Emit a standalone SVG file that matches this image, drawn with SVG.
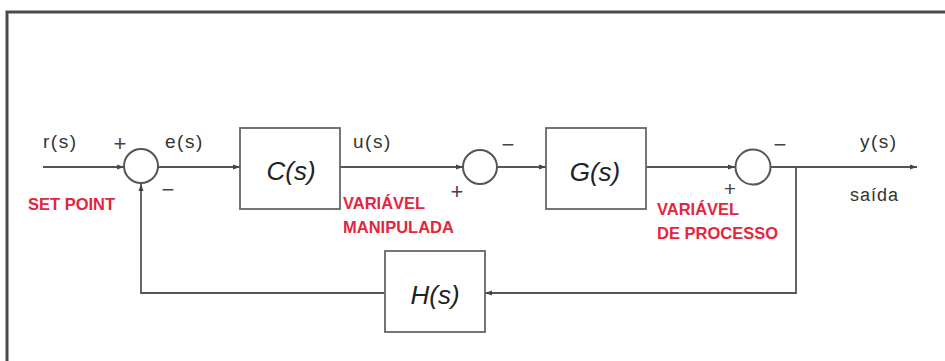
<svg xmlns="http://www.w3.org/2000/svg" width="945" height="361" viewBox="0 0 945 361">
<defs>
<marker id="arr" markerWidth="8" markerHeight="6" refX="7" refY="3" orient="auto" markerUnits="userSpaceOnUse">
<path d="M0,0.5 L7,3 L0,5.5 z" fill="#444"/>
</marker>
<style>
.ln{fill:none;stroke:#555;stroke-width:1.8}
.box{fill:#fff;stroke:#666;stroke-width:1.8}
.sum{fill:#fff;stroke:#555;stroke-width:2}
.lbl{font-family:"Liberation Sans",Arial,sans-serif;font-size:19px;fill:#333;letter-spacing:1.5px}
.fn{font-family:"Liberation Sans",Arial,sans-serif;font-size:26px;font-style:italic;fill:#222;text-anchor:middle}
.sg{font-family:"Liberation Sans",Arial,sans-serif;font-size:22px;fill:#444;text-anchor:middle}
.red{font-family:"Liberation Sans",Arial,sans-serif;font-size:16.5px;font-weight:bold;fill:#e3253d}
</style>
</defs>
<rect x="0" y="0" width="945" height="361" fill="#fff"/>
<path d="M7,361 V12 H945" fill="none" stroke="#4a4a4a" stroke-width="3"/>

<g id="connectors">
<line class="ln" x1="43" y1="167" x2="124" y2="167" marker-end="url(#arr)"/>
<line class="ln" x1="158" y1="167" x2="240" y2="167" marker-end="url(#arr)"/>
<line class="ln" x1="340" y1="167" x2="463" y2="167" marker-end="url(#arr)"/>
<line class="ln" x1="497" y1="167" x2="546" y2="167" marker-end="url(#arr)"/>
<line class="ln" x1="646" y1="167" x2="735" y2="167" marker-end="url(#arr)"/>
<line class="ln" x1="770" y1="167" x2="917" y2="167" marker-end="url(#arr)"/>
<polyline class="ln" points="796,167 796,293 485,293" marker-end="url(#arr)"/>
<polyline class="ln" points="385,293 141,293 141,184" marker-end="url(#arr)"/>
</g>

<g id="sum1">
<circle class="sum" cx="141" cy="166" r="17"/>
<text class="sg" x="120" y="151">+</text>
<text class="sg" x="168" y="197">−</text>
</g>
<g id="sum2">
<circle class="sum" cx="480" cy="167" r="17"/>
<text class="sg" x="508" y="152">−</text>
<text class="sg" x="457" y="199">+</text>
</g>
<g id="sum3">
<circle class="sum" cx="753" cy="167" r="17.5"/>
<text class="sg" x="780" y="152">−</text>
<text class="sg" x="730" y="196" style="font-size:21px">+</text>
</g>

<g id="C">
<rect class="box" x="240" y="128" width="100" height="81"/>
<text class="fn" x="291" y="180">C(s)</text>
</g>
<g id="G">
<rect class="box" x="546" y="128" width="100" height="81"/>
<text class="fn" x="595" y="181">G(s)</text>
</g>
<g id="H">
<rect class="box" x="385" y="251" width="100" height="81"/>
<text class="fn" x="435" y="304">H(s)</text>
</g>

<g id="labels">
<text class="lbl" x="43" y="148">r(s)</text>
<text class="lbl" x="165" y="148">e(s)</text>
<text class="lbl" x="353" y="148">u(s)</text>
<text class="lbl" x="860" y="148">y(s)</text>
<text class="lbl" x="850" y="201" style="font-size:18px;letter-spacing:1px">saída</text>
<text class="red" x="28" y="210">SET POINT</text>
<text class="red" x="343" y="209">VARIÁVEL</text>
<text class="red" x="343" y="233">MANIPULADA</text>
<text class="red" x="657" y="215">VARIÁVEL</text>
<text class="red" x="657" y="239">DE PROCESSO</text>
</g>
</svg>
